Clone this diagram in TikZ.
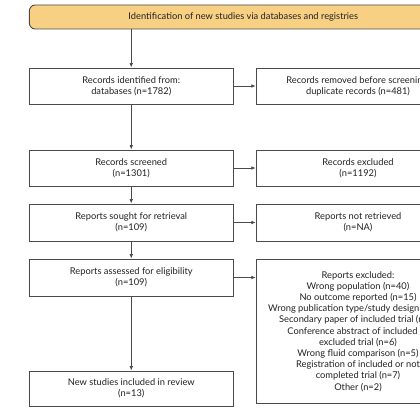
\documentclass[tikz,border=0pt]{standalone}
\usepackage{fontspec}
\setmainfont{Lato}
\usetikzlibrary{arrows.meta}
\definecolor{hdr}{HTML}{F8D084}
\definecolor{ln}{HTML}{4A4A4A}
\definecolor{tx}{HTML}{222222}
\tikzset{
  box/.style={draw=ln, line width=0.9pt, fill=white, minimum width=203.5pt, text=tx,
     align=center, font=\fontsize{9.3pt}{11.2pt}\selectfont, inner sep=0pt},
  hdrbox/.style={box, fill=hdr, rounded corners=6pt},
  arr/.style={draw=ln, line width=0.8pt, -{Latex[length=4.5pt,width=3.6pt]}}
}
\begin{document}
\begin{tikzpicture}[x=1pt,y=-1pt]
\useasboundingbox (0,0) rectangle (420,420);
\clip (0,0) rectangle (420,420);
\node[hdrbox, minimum width=428pt, minimum height=24pt] (top) at (243.3,17) {Identification of new studies via databases and registries};
\node[box, minimum height=36pt] (ident) at (131.25,86) {Records identified from:\\databases (n=1782)};
\node[box, minimum height=36pt] (removed) at (358,86) {Records removed before screening:\\duplicate records (n=481)};
\node[box, minimum height=36pt] (screen) at (131.25,168) {Records screened\\(n=1301)};
\node[box, minimum height=36pt] (excl) at (358,168) {Records excluded\\(n=1192)};
\node[box, minimum height=37pt] (sought) at (131.25,222.5) {Reports sought for retrieval\\(n=109)};
\node[box, minimum height=37pt] (notret) at (358,222.5) {Reports not retrieved\\(n=NA)};
\node[box, minimum height=37pt] (assess) at (131.25,277.5) {Reports assessed for eligibility\\(n=109)};
\node[box, minimum height=35pt] (incl) at (131.25,388.5) {New studies included in review\\(n=13)};
\node[box, minimum height=144pt, anchor=north] (repexcl) at (358,259) {Reports excluded:\\Wrong population (n=40)\\No outcome reported (n=15)\\Wrong publication type/study design (n=13)\\Secondary paper of included trial (n=8)\\Conference abstract of included or\\excluded trial (n=6)\\Wrong fluid comparison (n=5)\\Registration of included or not\\completed trial (n=7)\\Other (n=2)};
\draw[arr] (top.south -| ident.north) -- (ident.north);
\draw[arr] (ident) -- (screen);
\draw[arr] (screen) -- (sought);
\draw[arr] (sought) -- (assess);
\draw[arr] (assess) -- (incl);
\draw[arr] (ident) -- (removed);
\draw[arr] (screen) -- (excl);
\draw[arr] (sought) -- (notret);
\draw[arr] (assess.east) -- (assess.east -| repexcl.west);
\end{tikzpicture}
\end{document}
